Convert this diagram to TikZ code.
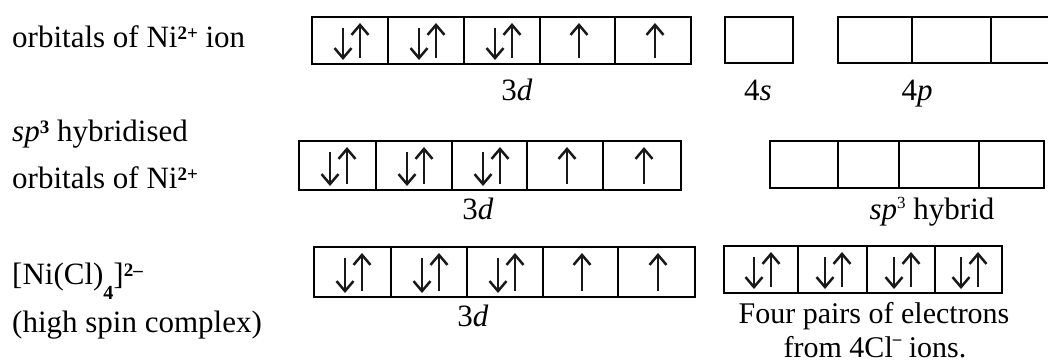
\documentclass[tikz,border=0pt]{standalone}
\usepackage{fontspec}
\setmainfont{Liberation Serif}
\usetikzlibrary{arrows.meta}
\newcommand{\bsup}[1]{\raisebox{8pt}{\fontsize{19}{19}\selectfont\bfseries #1}}
\newcommand{\rsup}[1]{\raisebox{11pt}{\fontsize{17}{17}\selectfont #1}}
\newcommand{\bsub}[1]{\raisebox{-15pt}{\fontsize{20}{20}\selectfont\bfseries #1}}
\newcommand{\minbar}{\raisebox{13pt}{\fontsize{17}{17}\selectfont\bfseries\textendash}}
\newcommand{\spinpair}[3]{%
  \draw[spin] ({#1-7},{#2+11}) -- ({#1-7},{#3-4});
  \draw[spin] ({#1+10},{#3-6}) -- ({#1+10},{#2+6});}
\newcommand{\spinup}[3]{%
  \draw[spin] ({#1+2},{#3-6}) -- ({#1+2},{#2+6});}
\begin{document}
\begin{tikzpicture}[x=1pt,y=-1pt,
  lbl/.style={inner sep=0pt, font=\fontsize{31}{36}\selectfont},
  note/.style={inner sep=0pt, font=\fontsize{30}{34}\selectfont},
  cell/.style={line width=2.3pt, draw=black},
  spin/.style={line width=2.5pt, draw=black!90, -{Straight Barb[length=10pt,width=17pt]}}]
\useasboundingbox (0,0) rectangle (1048,362);
\clip (0,0) rectangle (1048,362);
% ---------- row 1
\node[lbl, anchor=base west] (l1) at (12,47) {orbitals of Ni\bsup{2+} ion};
\draw[cell] (312,17) rectangle (691,64);
\foreach \x in {388,464,540,615} \draw[cell] (\x,17) -- (\x,64);
\spinpair{350}{17}{64}
\spinpair{426}{17}{64}
\spinpair{502}{17}{64}
\spinup{577}{17}{64}
\spinup{653}{17}{64}
\node[lbl, anchor=base] (d1) at (517,100) {3\textit{d}};
\draw[cell] (725,17) rectangle (793,63);
\node[lbl, anchor=base] (s1) at (758,100) {4\textit{s}};
\draw[cell] (838,17) rectangle (1068,63);
\foreach \x in {912,991} \draw[cell] (\x,17) -- (\x,63);
\node[lbl, anchor=base] (p1) at (917,100) {4\textit{p}};
% ---------- row 2
\node[lbl, anchor=base west] (l2a) at (12,141) {\textit{sp}\bsup{3} hybridised};
\node[lbl, anchor=base west] (l2b) at (12,188) {orbitals of Ni\bsup{2+}};
\draw[cell] (299,141) rectangle (681,190);
\foreach \x in {376,452,527,603} \draw[cell] (\x,141) -- (\x,190);
\spinpair{337}{141}{190}
\spinpair{414}{141}{190}
\spinpair{490}{141}{190}
\spinup{565}{141}{190}
\spinup{642}{141}{190}
\node[lbl, anchor=base] (d2) at (478,219) {3\textit{d}};
\draw[cell] (770,141) rectangle (1044,188);
\foreach \x in {838,899,979} \draw[cell] (\x,141) -- (\x,188);
\node[lbl, anchor=base] (h2) at (932,219) {\textit{sp}\rsup{3} hybrid};
% ---------- row 3
\node[lbl, anchor=base west] (l3a) at (12,284) {[Ni(Cl)\bsub{4}]\bsup{2\textendash}};
\node[lbl, anchor=base west] (l3b) at (12,332) {(high spin complex)};
\draw[cell] (314,247) rectangle (695,297);
\foreach \x in {391,467,543,618} \draw[cell] (\x,247) -- (\x,297);
\spinpair{352}{247}{297}
\spinpair{429}{247}{297}
\spinpair{505}{247}{297}
\spinup{580}{247}{297}
\spinup{656}{247}{297}
\node[lbl, anchor=base] (d3) at (473,326) {3\textit{d}};
\draw[cell] (724,246) rectangle (1002,293);
\foreach \x in {798,867,935} \draw[cell] (\x,246) -- (\x,293);
\spinpair{761}{246}{293}
\spinpair{832}{246}{293}
\spinpair{901}{246}{293}
\spinpair{968}{246}{293}
\node[note, anchor=base] (f1) at (874,323) {Four pairs of electrons};
\node[note, anchor=base] (f2) at (875,357) {from 4Cl\minbar\ ions.};
\end{tikzpicture}
\end{document}
